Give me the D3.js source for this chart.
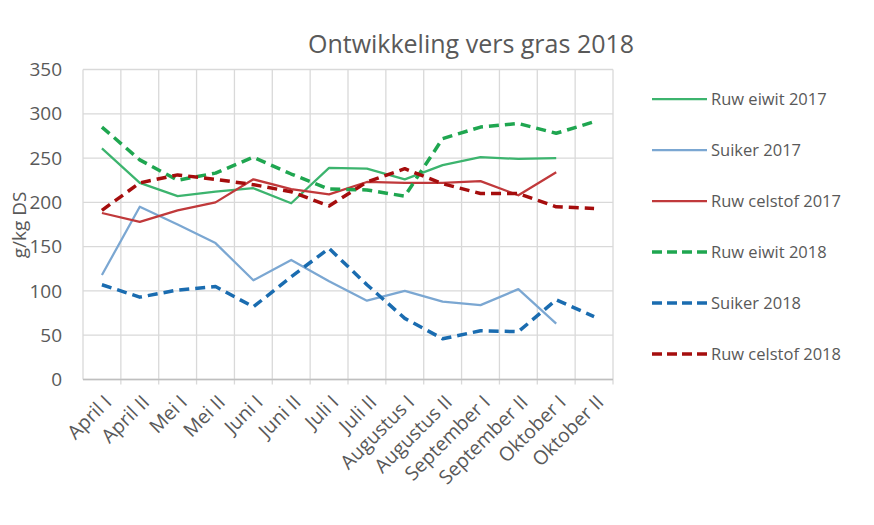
<!DOCTYPE html>
<html><head><meta charset="utf-8">
<script src="https://cdn.jsdelivr.net/npm/d3@7"></script>
<style>body{margin:0;background:#fff;} svg{display:block;font-family:"Open Sans",sans-serif;}</style>
</head><body><svg id="c" width="874" height="525"></svg>
<script>
const categories = ["April I","April II","Mei I","Mei II","Juni I","Juni II","Juli I","Juli II","Augustus I","Augustus II","September I","September II","Oktober I","Oktober II"];
const ruwEiwit2017 = [261,222,207,212,216,199,239,238,226,242,251,249,250,null];
const suiker2017 = [118,195,175,154,112,135,111,89,100,88,84,102,63,null];
const ruwCelstof2017 = [188,178,191,200,226,215,209,223,222,222,224,208,234,null];
const ruwEiwit2018 = [285,248,225,233,251,232,215,214,207,272,285,289,278,291];
const suiker2018 = [107,93,101,105,82,116,148,107,69,46,55,54,90,71];
const ruwCelstof2018 = [191,222,231,226,220,212,196,223,238,221,210,210,195,193];
const yTicks = [0,50,100,150,200,250,300,350];
const seriesNames = ["Ruw eiwit 2017","Suiker 2017","Ruw celstof 2017","Ruw eiwit 2018","Suiker 2018","Ruw celstof 2018"];

const series = [
  {name:seriesNames[0], values:ruwEiwit2017, color:"#3cb46e", width:2.25, dash:null},
  {name:seriesNames[1], values:suiker2017, color:"#7ba7d2", width:2.25, dash:null},
  {name:seriesNames[2], values:ruwCelstof2017, color:"#c0393b", width:2.25, dash:null},
  {name:seriesNames[3], values:ruwEiwit2018, color:"#1fa650", width:3.5, dash:"10,6"},
  {name:seriesNames[4], values:suiker2018, color:"#1a6cb0", width:3.5, dash:"10,6"},
  {name:seriesNames[5], values:ruwCelstof2018, color:"#a50d0d", width:3.5, dash:"10,6"}
];

const svg = d3.select("#c");
const L=83, R=613, T=69.5, B=379.5;
const x = d3.scaleBand().domain(categories).range([L,R]);
const y = d3.scaleLinear().domain([0,350]).range([B,T]);

// grid
const g = svg.append("g");
g.selectAll("line.h").data(yTicks).enter().append("line")
  .attr("x1",L).attr("x2",R).attr("y1",d=>y(d)).attr("y2",d=>y(d))
  .attr("stroke","#d9d9d9").attr("stroke-width",1.3);
const bounds = categories.map(c=>x(c)).concat([R]);
g.selectAll("line.v").data(bounds).enter().append("line")
  .attr("x1",d=>d).attr("x2",d=>d).attr("y1",T).attr("y2",d=>B+ (d===L?0:5))
  .attr("stroke","#d9d9d9").attr("stroke-width",1.3);
g.append("line").attr("x1",L).attr("x2",R).attr("y1",B).attr("y2",B).attr("stroke","#bfbfbf").attr("stroke-width",1.3);

// y axis
const ya = svg.append("g").attr("transform",`translate(${L},0)`)
  .call(d3.axisLeft(y).tickValues(yTicks).tickSize(0).tickPadding(21));
ya.select(".domain").remove();
ya.selectAll("text").attr("font-size",19).attr("fill","#595959").attr("font-family","Open Sans, sans-serif");

// x axis
const xa = svg.append("g").attr("transform",`translate(0,${B})`)
  .call(d3.axisBottom(x).tickSize(0));
xa.select(".domain").remove();
xa.selectAll("text").attr("font-size",19.5).attr("fill","#595959").attr("font-family","Open Sans, sans-serif")
  .attr("text-anchor","end").attr("dy","0.35em").attr("y",0)
  .attr("transform","translate(6,19) rotate(-45)");

// lines
const line = d3.line().defined(d=>d.v!=null).x(d=>x(d.c)+x.bandwidth()/2).y(d=>y(d.v));
series.forEach(s=>{
  svg.append("path").datum(categories.map((c,i)=>({c:c,v:s.values[i]})))
    .attr("d",line).attr("fill","none").attr("stroke",s.color)
    .attr("stroke-width",s.width).attr("stroke-dasharray",s.dash)
    .attr("stroke-linejoin","round");
});

// title
svg.append("text").attr("x",471).attr("y",53).attr("text-anchor","middle")
  .attr("font-size",25).attr("fill","#595959").text("Ontwikkeling vers gras 2018");
// y label
svg.append("text").attr("transform","translate(26,225) rotate(-90)").attr("text-anchor","middle")
  .attr("font-size",19).attr("fill","#595959").text("g/kg DS");

// legend
const lg = svg.append("g");
series.forEach((s,i)=>{
  const yy = 99 + i*51;
  lg.append("line").attr("x1",652).attr("x2",707).attr("y1",yy).attr("y2",yy)
    .attr("stroke",s.color).attr("stroke-width",s.width).attr("stroke-dasharray",s.dash?"10,5":null);
  lg.append("text").attr("x",711).attr("y",yy+6).attr("font-size",16.5).attr("fill","#595959").text(s.name);
});
</script></body></html>
